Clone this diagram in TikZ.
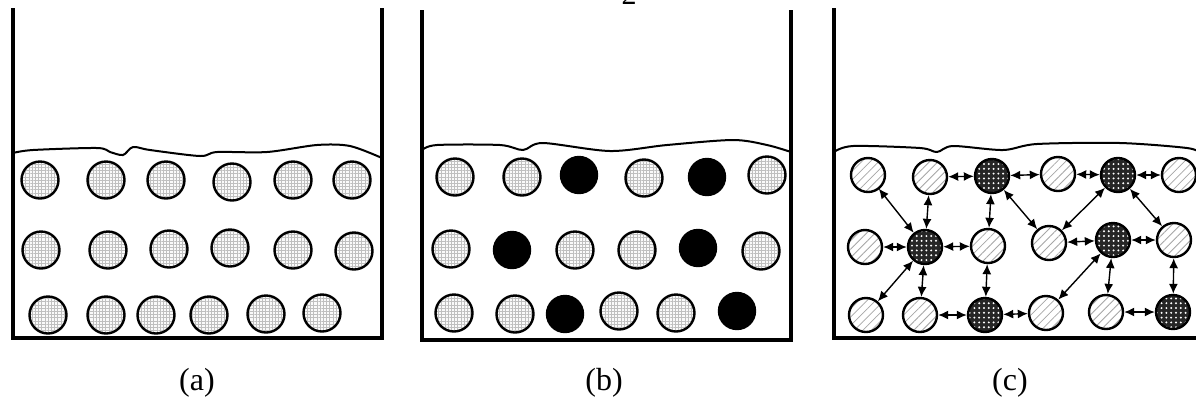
\documentclass[tikz,border=0pt]{standalone}
\usepackage{fontspec}
\setmainfont{Liberation Serif}
\usetikzlibrary{arrows.meta,patterns.meta}
\tikzset{
  wall/.style={line width=1.6pt,line join=miter},
  surface/.style={line width=1pt},
  grain/.style={circle,draw,line width=1.2pt,minimum size=18.5pt,inner sep=0pt,
    preaction={fill=gray!4},pattern={Hatch[distance=1.6pt,line width=0.25pt]},
    pattern color=gray!50},
  blackgrain/.style={circle,draw,line width=1.2pt,minimum size=18pt,inner sep=0pt,
    fill=black},
  hatchgrain/.style={circle,draw,line width=1.2pt,minimum size=17pt,inner sep=0pt,
    preaction={fill=white},pattern={Lines[angle=45,distance=3pt,line width=0.4pt]},
    pattern color=gray!70},
  darkgrain/.style={circle,draw,line width=1.2pt,minimum size=17pt,inner sep=0pt,
    preaction={fill=black!85},pattern={Dots[distance=2.4pt,radius=0.55pt]},
    pattern color=white},
  link/.style={{Latex[length=5pt,width=4.5pt]}-{Latex[length=5pt,width=4.5pt]},
    line width=0.7pt},
  caption/.style={font=\fontsize{16}{19}\selectfont}
}
\begin{document}
\begin{tikzpicture}[x=0.5pt,y=-0.5pt]
  \clip (0,0) rectangle (1196,404);
  \node[anchor=base,font=\fontsize{15}{18}\selectfont] (pagenum) at (629,4) {2};

  % (a)
  \draw[wall] (13,8) -- (13,338) -- (382,338) -- (382,8);
  \draw[surface] plot[smooth,tension=0.5] coordinates {(13,153) (33,150) (97,148)
    (110,152) (123,155) (133,147) (150,150) (200,156) (217,152) (267,152)
    (317,145) (350,146) (382,158)};
  \foreach \x/\y [count=\i] in {40/180,106/180,166/180,232/182,293/180,352/180,
      41/250,108/250,169/249,230/248,293/250,354/251,
      48/315,106/315,156/315,209/315,266/314,322/313}
    \node[grain] (a\i) at (\x,\y) {};
  \node[caption] (lbla) at (197,383) {(a)};

  % (b)
  \draw[wall] (422,10) -- (422,340) -- (791,340) -- (791,10);
  \draw[surface] plot[smooth,tension=0.5] coordinates {(422,150) (437,145)
    (500,145) (523,150) (543,143) (610,151) (667,145) (733,140) (767,145)
    (791,152)};
  \foreach \x/\y/\s [count=\i] in {455/177/grain,522/177/grain,579/175/blackgrain,
      644/178/grain,707/177/blackgrain,767/175/grain,
      451/249/grain,512/250/blackgrain,575/250/grain,637/250/grain,
      698/248/blackgrain,761/251/grain,
      454/313/grain,515/314/grain,565/314/blackgrain,619/311/grain,
      676/313/grain,737/311/blackgrain}
    \node[\s] (b\i) at (\x,\y) {};
  \node[caption] (lblb) at (604,383) {(b)};

  % (c)
  \draw[wall] (834,8) -- (834,338) -- (1200,338);
  \draw[surface] plot[smooth,tension=0.5] coordinates {(834,152) (853,146)
    (920,148) (937,152) (953,146) (1003,150) (1037,144) (1120,143) (1187,148)
    (1200,153)};
  \node[hatchgrain] (c11) at (868,175) {};
  \node[hatchgrain] (c12) at (930,177) {};
  \node[darkgrain]  (c13) at (992,176) {};
  \node[hatchgrain] (c14) at (1058,174) {};
  \node[darkgrain]  (c15) at (1118,175) {};
  \node[hatchgrain] (c16) at (1179,175) {};
  \node[hatchgrain] (c21) at (865,247) {};
  \node[darkgrain]  (c22) at (925,247) {};
  \node[hatchgrain] (c23) at (988,246) {};
  \node[hatchgrain] (c24) at (1049,243) {};
  \node[darkgrain]  (c25) at (1113,240) {};
  \node[hatchgrain] (c26) at (1174,240) {};
  \node[hatchgrain] (c31) at (866,315) {};
  \node[hatchgrain] (c32) at (920,315) {};
  \node[darkgrain]  (c33) at (985,315) {};
  \node[hatchgrain] (c34) at (1046,313) {};
  \node[hatchgrain] (c35) at (1106,312) {};
  \node[darkgrain]  (c36) at (1173,312) {};
  \draw[link] (c12) -- (c13);
  \draw[link] (c13) -- (c14);
  \draw[link] (c14) -- (c15);
  \draw[link] (c15) -- (c16);
  \draw[link] (c11) -- (c22);
  \draw[link] (c12) -- (c22);
  \draw[link] (c13) -- (c23);
  \draw[link] (c13) -- (c24);
  \draw[link] (c15) -- (c24);
  \draw[link] (c15) -- (c26);
  \draw[link] (c21) -- (c22);
  \draw[link] (c22) -- (c23);
  \draw[link] (c24) -- (c25);
  \draw[link] (c25) -- (c26);
  \draw[link] (c22) -- (c31);
  \draw[link] (c22) -- (c32);
  \draw[link] (c23) -- (c33);
  \draw[link] (c25) -- (c34);
  \draw[link] (c25) -- (c35);
  \draw[link] (c26) -- (c36);
  \draw[link] (c32) -- (c33);
  \draw[link] (c33) -- (c34);
  \draw[link] (c35) -- (c36);
  \node[caption] (lblc) at (1010,383) {(c)};
\end{tikzpicture}
\end{document}
